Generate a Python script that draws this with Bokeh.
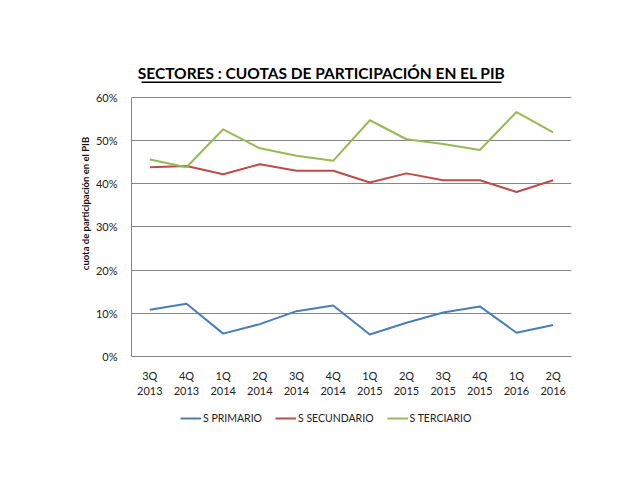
from bokeh.plotting import figure
from bokeh.layouts import column
from bokeh.models import (FactorRange, Range1d, NumeralTickFormatter, Label, Legend,
                          LegendItem, BoxAnnotation, FixedTicker)
from bokeh.embed import file_html
from bokeh.resources import INLINE

quarters = ["3Q\n2013", "4Q\n2013", "1Q\n2014", "2Q\n2014", "3Q\n2014", "4Q\n2014",
            "1Q\n2015", "2Q\n2015", "3Q\n2015", "4Q\n2015", "1Q\n2016", "2Q\n2016"]
primario = [0.108, 0.122, 0.053, 0.075, 0.105, 0.118, 0.051, 0.078, 0.102, 0.116, 0.055, 0.073]
secundario = [0.438, 0.441, 0.422, 0.445, 0.430, 0.430, 0.403, 0.424, 0.408, 0.408, 0.381, 0.408]
terciario = [0.456, 0.438, 0.526, 0.482, 0.465, 0.453, 0.547, 0.503, 0.492, 0.478, 0.566, 0.519]
series_names = ["S PRIMARIO", "S SECUNDARIO", "S TERCIARIO"]
colors = ["#4A7EBB", "#BE4B48", "#98B954"]
y_ticks = [0.0, 0.1, 0.2, 0.3, 0.4, 0.5, 0.6]
title_text = "SECTORES : CUOTAS DE PARTICIPACIÓN EN EL PIB"
y_label = "cuota de participación en el PIB"

FONT = "Lato"

# frame extends above 60% so the title (and its underline) can live inside it
p = figure(width=632, height=400, x_range=FactorRange(*quarters, range_padding=0),
           y_range=Range1d(0, 0.6 * 307 / 260), output_backend="svg", toolbar_location=None,
           min_border_left=131, min_border_right=61, min_border_top=50, min_border_bottom=43)
p.outline_line_color = None
p.background_fill_color = "white"
p.border_fill_color = "white"

for vals, c in zip([primario, secundario, terciario], colors):
    p.line(quarters, vals, line_color=c, line_width=2)

p.xgrid.grid_line_color = None
p.ygrid.grid_line_color = "#868686"
p.ygrid.grid_line_width = 1

p.yaxis.ticker = FixedTicker(ticks=y_ticks)
p.yaxis.formatter = NumeralTickFormatter(format="0%")
p.yaxis.bounds = (0, 0.6)
for ax in (p.xaxis[0], p.yaxis[0]):
    ax.axis_line_color = "#868686"
    ax.major_tick_line_color = None
    ax.minor_tick_line_color = None
    ax.major_label_text_font = FONT
    ax.major_label_text_font_size = "11px"
    ax.major_label_text_color = "#222222"
p.yaxis.major_label_standoff = 8
p.xaxis.major_label_standoff = 6
p.yaxis.axis_label = y_label
p.yaxis.axis_label_text_font = FONT
p.yaxis.axis_label_text_font_size = "9.5px"
p.yaxis.axis_label_text_font_style = "bold"
p.yaxis.axis_label_text_color = "#111111"
p.yaxis.axis_label_standoff = 2

title = Label(x=190, y=284, x_units="screen", y_units="screen", text=title_text,
              text_align="center", text_baseline="middle", text_font=FONT,
              text_font_size="15.5px", text_font_style="bold", text_color="#000000")
p.add_layout(title)
underline = BoxAnnotation(left=10, right=370, top=275, bottom=273.5,
                          left_units="screen", right_units="screen",
                          top_units="screen", bottom_units="screen",
                          fill_color="black", fill_alpha=1, line_color=None)
p.add_layout(underline)

# legend strip below the chart (same series, plotted outside its visible y range)
lf = figure(width=632, height=72, x_range=p.x_range, y_range=Range1d(2, 3),
            x_axis_type=None, y_axis_type=None, output_backend="svg", toolbar_location=None,
            min_border_left=131, min_border_right=61, min_border_top=0, min_border_bottom=0)
lf.outline_line_color = None
lf.xgrid.visible = False
lf.ygrid.visible = False
legend_lines = [lf.line(quarters, vals, line_color=c, line_width=2)
                for vals, c in zip([primario, secundario, terciario], colors)]
legend = Legend(items=[LegendItem(label=n, renderers=[r]) for n, r in zip(series_names, legend_lines)],
                orientation="horizontal", location=(49, 44), border_line_color=None,
                background_fill_alpha=0, padding=0, margin=0, spacing=13,
                glyph_width=21, label_standoff=2, label_text_font=FONT,
                label_text_font_size="10.5px", label_text_color="#222222")
lf.add_layout(legend, "center")

layout = column(p, lf, spacing=0)
open("out.html", "w").write(file_html(layout, INLINE))
